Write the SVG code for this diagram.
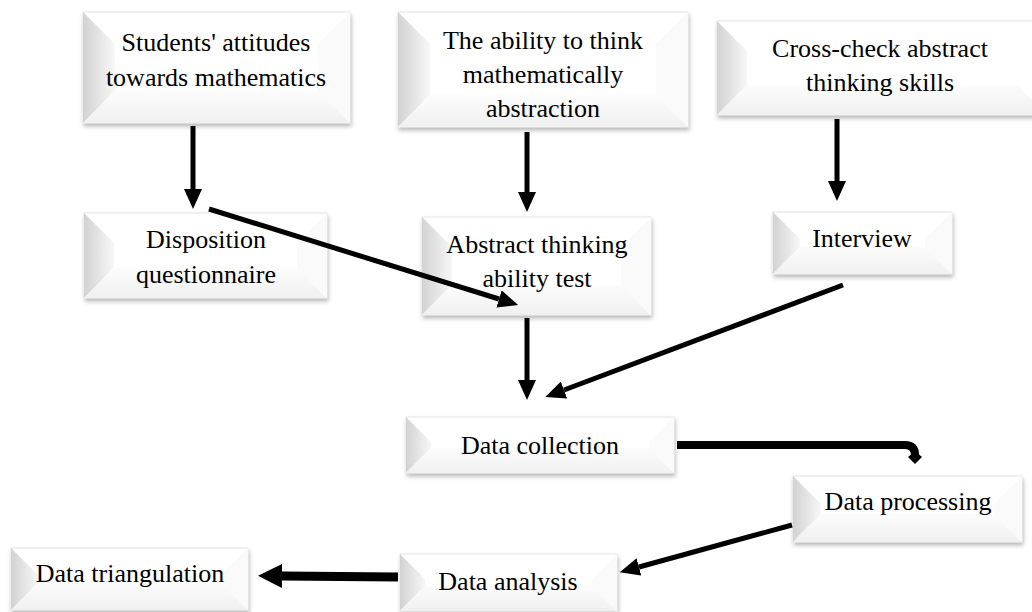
<svg xmlns="http://www.w3.org/2000/svg" width="1032" height="612" viewBox="0 0 1032 612">
<style>
.face{fill:#ffffff;stroke:#dedede;stroke-width:0.8;filter:url(#sh)}
.bl{fill:url(#gl)}
.bb{fill:url(#gb)}
.br{fill:#fafafa}
.t{font-family:"Liberation Serif","Times New Roman",serif;font-size:26px;fill:#000;text-anchor:middle}
.c{stroke:#000;stroke-width:5;fill:none}
</style>
<defs>
<filter id="sh" x="-5%" y="-10%" width="115%" height="135%">
<feDropShadow dx="1" dy="3" stdDeviation="2" flood-color="#000" flood-opacity="0.28"/>
</filter>
<linearGradient id="gl" x1="0" y1="0" x2="1" y2="0">
<stop offset="0" stop-color="#d2d2d2"/>
<stop offset="1" stop-color="#f7f7f7"/>
</linearGradient>
<linearGradient id="gb" x1="0" y1="0" x2="0" y2="1">
<stop offset="0" stop-color="#fcfcfc"/>
<stop offset="1" stop-color="#f0f0f0"/>
</linearGradient>
<marker id="ah" markerUnits="userSpaceOnUse" viewBox="0 0 20 18" markerWidth="20" markerHeight="18" refX="0" refY="9" orient="auto">
<path d="M0,0 L20,9 L0,18 z" fill="#000"/>
</marker>
<marker id="ahL" markerUnits="userSpaceOnUse" viewBox="0 0 24 24" markerWidth="24" markerHeight="24" refX="0" refY="12" orient="auto">
<path d="M0,0 L24,12 L0,24 z" fill="#000"/>
</marker>
</defs>

<g id="n1">
<rect class="face" x="83" y="12" width="267" height="111"/>
<polygon class="bl" points="83,12 115,44 115,91 83,123"/>
<polygon class="bb" points="83,123 115,91 318,91 350,123"/>
<polygon class="br" points="350,12 350,123 318,91 318,44"/>
<text class="t" x="216" y="51">Students' attitudes</text>
<text class="t" x="216" y="86">towards mathematics</text>
</g>

<g id="n2">
<rect class="face" x="398" y="12" width="290" height="115"/>
<polygon class="bl" points="398,12 430,44 430,95 398,127"/>
<polygon class="bb" points="398,127 430,95 656,95 688,127"/>
<polygon class="br" points="688,12 688,127 656,95 656,44"/>
<text class="t" x="543" y="49">The ability to think</text>
<text class="t" x="543" y="83">mathematically</text>
<text class="t" x="543" y="117">abstraction</text>
</g>

<g id="n3">
<rect class="face" x="717" y="21" width="330" height="94"/>
<polygon class="bl" points="717,21 747,51 747,85 717,115"/>
<polygon class="bb" points="717,115 747,85 1017,85 1047,115"/>
<text class="t" x="880" y="57">Cross-check abstract</text>
<text class="t" x="880" y="91">thinking skills</text>
</g>

<g id="n4">
<rect class="face" x="84" y="213" width="243" height="85"/>
<polygon class="bl" points="84,213 114,243 114,268 84,298"/>
<polygon class="bb" points="84,298 114,268 297,268 327,298"/>
<polygon class="br" points="327,213 327,298 297,268 297,243"/>
<text class="t" x="206" y="248">Disposition</text>
<text class="t" x="206" y="283">questionnaire</text>
</g>

<g id="n5">
<rect class="face" x="422" y="217" width="229" height="98"/>
<polygon class="bl" points="422,217 452,247 452,285 422,315"/>
<polygon class="bb" points="422,315 452,285 621,285 651,315"/>
<polygon class="br" points="651,217 651,315 621,285 621,247"/>
<text class="t" x="537" y="253">Abstract thinking</text>
<text class="t" x="537" y="287">ability test</text>
</g>

<g id="n6">
<rect class="face" x="773" y="212" width="179" height="62"/>
<polygon class="bl" points="773,212 800,239 800,247 773,274"/>
<polygon class="bb" points="773,274 800,247 925,247 952,274"/>
<polygon class="br" points="952,212 952,274 925,247 925,239"/>
<text class="t" x="862" y="247">Interview</text>
</g>

<g id="n7">
<rect class="face" x="406" y="417" width="268" height="56"/>
<polygon class="bl" points="406,417 431,442 431,448 406,473"/>
<polygon class="bb" points="406,473 431,448 649,448 674,473"/>
<polygon class="br" points="674,417 674,473 649,448 649,442"/>
<text class="t" x="540" y="454">Data collection</text>
</g>

<g id="n8">
<rect class="face" x="793" y="476" width="229" height="66"/>
<polygon class="bl" points="793,476 821,504 821,514 793,542"/>
<polygon class="bb" points="793,542 821,514 994,514 1022,542"/>
<polygon class="br" points="1022,476 1022,542 994,514 994,504"/>
<text class="t" x="908" y="510">Data processing</text>
</g>

<g id="n9">
<rect class="face" x="400" y="554" width="217" height="57"/>
<polygon class="bl" points="400,554 425,579 425,586 400,611"/>
<polygon class="bb" points="400,611 425,586 592,586 617,611"/>
<polygon class="br" points="617,554 617,611 592,586 592,579"/>
<text class="t" x="508" y="590">Data analysis</text>
</g>

<g id="n10">
<rect class="face" x="11" y="548" width="237" height="62"/>
<polygon class="bl" points="11,548 38,575 38,583 11,610"/>
<polygon class="bb" points="11,610 38,583 221,583 248,610"/>
<polygon class="br" points="248,548 248,610 221,583 221,575"/>
<text class="t" x="130" y="582">Data triangulation</text>
</g>

<g id="connectors">
<line class="c" x1="193" y1="126" x2="193" y2="189" marker-end="url(#ah)"/>
<line class="c" x1="527" y1="132" x2="527" y2="192" marker-end="url(#ah)"/>
<line class="c" x1="837" y1="119" x2="837" y2="181" marker-end="url(#ah)"/>
<line class="c" x1="209" y1="209" x2="499" y2="299" marker-end="url(#ah)"/>
<line class="c" x1="527" y1="318" x2="527" y2="380" marker-end="url(#ah)"/>
<line class="c" x1="843" y1="285" x2="564" y2="390" marker-end="url(#ah)"/>
<path d="M677,445 H905 Q915,445 915,455 V457" stroke="#000" stroke-width="8" fill="none"/>
<polygon points="915,451 922,457 915,464 908,457" fill="#000"/>
<line class="c" x1="792" y1="525" x2="639" y2="567" marker-end="url(#ah)"/>
<line x1="398" y1="577" x2="282" y2="576" stroke="#000" stroke-width="9" marker-end="url(#ahL)"/>
</g>
</svg>
